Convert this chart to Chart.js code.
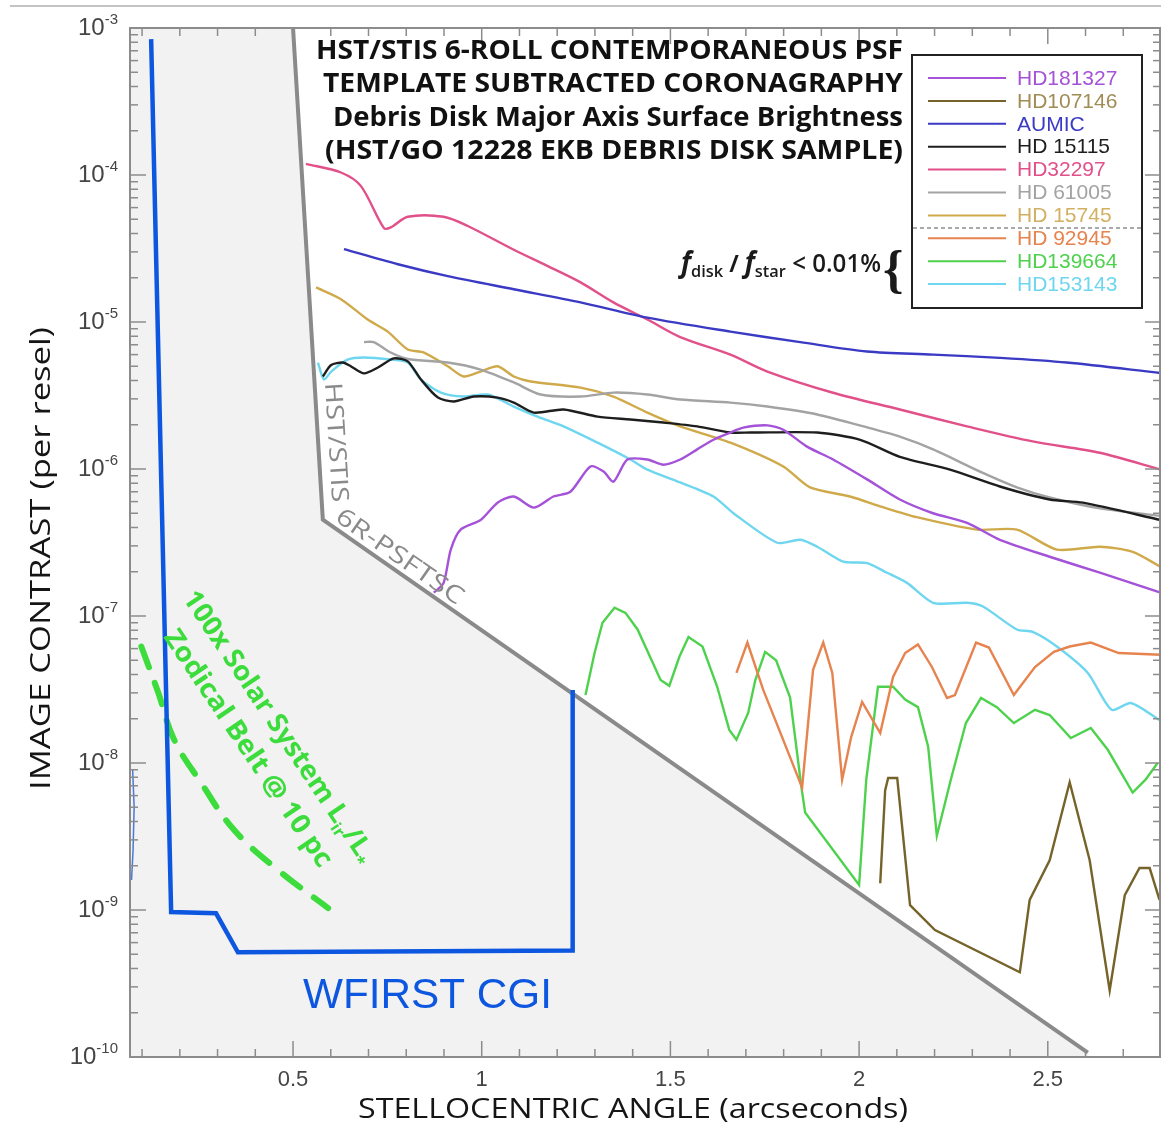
<!DOCTYPE html>
<html>
<head>
<meta charset="utf-8">
<script src="https://cdn.jsdelivr.net/npm/chart.js@4.4.1/dist/chart.umd.min.js"></script>
<style>
  html, body { margin: 0; padding: 0; background: #fff; }
  canvas { display: block; }
</style>
</head>
<body>
<canvas id="contrastChart" width="1161" height="1123"></canvas>
<script>
// Данные (угол в arcsec, контраст на resel)
const seriesNames = ['HD181327', 'HD107146', 'AUMIC', 'HD 15115', 'HD32297',
  'HD 61005', 'HD 15745', 'HD 92945', 'HD139664', 'HD153143'];
const seriesColors = ['#a452d8', '#75632a', '#3a3ac4', '#1e1e1e', '#e2508a',
  '#a3a3a3', '#cfa94a', '#e6834e', '#4ed24e', '#6fd6ef'];
const legendColors = ['#a452d8', '#a08d55', '#3a3ac4', '#1e1e1e', '#e2508a',
  '#a3a3a3', '#d2b062', '#e6834e', '#4ed24e', '#6fd6ef'];
// сглаживание: гладкие профили и «рваные» шумовые
const seriesTension = [0.25, 0, 0.3, 0.25, 0.3, 0.25, 0.25, 0, 0, 0.25];

const hd181327X = [0.873, 0.899, 0.918, 0.944, 0.997, 1.042, 1.085, 1.138, 1.190, 1.235, 1.288, 1.323, 1.349, 1.386, 1.439, 1.481, 1.526, 1.571, 1.614, 1.659, 1.693, 1.757, 1.799, 1.862, 1.931, 2.021, 2.108, 2.196, 2.286, 2.373, 2.505, 2.638, 2.799];
const hd181327Y = [1.44e-7, 1.68e-7, 2.83e-7, 3.87e-7, 4.5e-7, 5.9e-7, 6.5e-7, 5.46e-7, 6.5e-7, 7.0e-7, 1.04e-6, 9.6e-7, 8.2e-7, 1.16e-6, 1.16e-6, 1.07e-6, 1.16e-6, 1.36e-6, 1.58e-6, 1.77e-6, 1.91e-6, 1.98e-6, 1.85e-6, 1.42e-6, 1.16e-6, 8.5e-7, 6.2e-7, 5.0e-7, 4.3e-7, 3.3e-7, 2.53e-7, 1.97e-7, 1.44e-7];

const hd107146X = [2.056, 2.069, 2.077, 2.101, 2.135, 2.201, 2.426, 2.452, 2.505, 2.558, 2.611, 2.664, 2.704, 2.743, 2.770, 2.796];
const hd107146Y = [1.52e-9, 6.5e-9, 7.9e-9, 7.9e-9, 1.08e-9, 7.3e-10, 3.77e-10, 1.17e-9, 2.18e-9, 7.4e-9, 2.18e-9, 2.84e-10, 1.26e-9, 1.93e-9, 1.93e-9, 1.17e-9];

const aumicX = [0.635, 0.778, 0.910, 1.085, 1.262, 1.439, 1.659, 1.844, 2.021, 2.196, 2.373, 2.550, 2.799];
const aumicY = [3.13e-5, 2.47e-5, 2.05e-5, 1.67e-5, 1.36e-5, 1.07e-5, 8.6e-6, 7.3e-6, 6.3e-6, 6.0e-6, 5.7e-6, 5.3e-6, 4.5e-6];

const hd15115X = [0.579, 0.601, 0.632, 0.653, 0.688, 0.725, 0.767, 0.804, 0.839, 0.884, 0.926, 0.979, 1.042, 1.085, 1.138, 1.217, 1.307, 1.394, 1.481, 1.571, 1.659, 1.712, 1.889, 2.003, 2.108, 2.241, 2.373, 2.505, 2.593, 2.799];
const hd15115Y = [4.26e-6, 5.1e-6, 5.3e-6, 5.0e-6, 4.47e-6, 4.9e-6, 5.65e-6, 5.4e-6, 4.06e-6, 3.06e-6, 2.88e-6, 3.11e-6, 3.06e-6, 2.83e-6, 2.42e-6, 2.54e-6, 2.27e-6, 2.17e-6, 2.07e-6, 1.95e-6, 1.77e-6, 1.77e-6, 1.77e-6, 1.58e-6, 1.21e-6, 9.9e-7, 7.6e-7, 6.2e-7, 5.9e-7, 4.5e-7];

const hd32297X = [0.534, 0.627, 0.680, 0.741, 0.759, 0.804, 0.899, 0.963, 1.085, 1.175, 1.262, 1.349, 1.439, 1.526, 1.659, 1.757, 1.931, 2.108, 2.286, 2.460, 2.638, 2.799];
const hd32297Y = [1.19e-4, 1.04e-4, 8.4e-5, 4.35e-5, 4.4e-5, 5.2e-5, 5.2e-5, 4.5e-5, 3.1e-5, 2.4e-5, 1.86e-5, 1.36e-5, 1.04e-5, 7.9e-6, 6.0e-6, 4.6e-6, 3.3e-6, 2.54e-6, 1.95e-6, 1.54e-6, 1.29e-6, 9.9e-7];

const hd61005X = [0.688, 0.714, 0.759, 0.804, 0.910, 0.997, 1.085, 1.156, 1.262, 1.349, 1.439, 1.526, 1.659, 1.757, 1.889, 2.021, 2.108, 2.196, 2.328, 2.418, 2.505, 2.638, 2.799];
const hd61005Y = [7.3e-6, 7.3e-6, 6.2e-6, 5.6e-6, 5.3e-6, 4.75e-6, 3.88e-6, 3.21e-6, 3.11e-6, 3.31e-6, 3.21e-6, 2.97e-6, 2.83e-6, 2.66e-6, 2.35e-6, 1.92e-6, 1.66e-6, 1.36e-6, 9.4e-7, 7.5e-7, 6.4e-7, 5.4e-7, 4.8e-7];

const hd15745X = [0.561, 0.627, 0.698, 0.751, 0.804, 0.847, 0.910, 0.952, 0.997, 1.042, 1.085, 1.130, 1.262, 1.349, 1.439, 1.526, 1.659, 1.799, 1.870, 1.976, 2.063, 2.153, 2.312, 2.418, 2.524, 2.638, 2.725, 2.799];
const hd15745Y = [1.72e-5, 1.43e-5, 1.04e-5, 8.6e-6, 6.5e-6, 6.2e-6, 5.0e-6, 4.26e-6, 4.6e-6, 5.0e-6, 4.26e-6, 3.94e-6, 3.58e-6, 3.11e-6, 2.42e-6, 1.95e-6, 1.51e-6, 1.04e-6, 7.5e-7, 6.5e-7, 5.5e-7, 4.7e-7, 3.87e-7, 3.87e-7, 2.83e-7, 2.96e-7, 2.73e-7, 2.16e-7];

const hd92945X = [1.675, 1.704, 1.746, 1.796, 1.849, 1.878, 1.905, 1.929, 1.955, 1.979, 2.008, 2.056, 2.090, 2.122, 2.156, 2.193, 2.233, 2.254, 2.310, 2.344, 2.410, 2.466, 2.516, 2.558, 2.614, 2.688, 2.799];
const hd92945Y = [4.1e-8, 6.6e-8, 3.14e-8, 1.5e-8, 6.8e-9, 4.3e-8, 6.6e-8, 4.1e-8, 7.7e-9, 1.5e-8, 2.6e-8, 1.6e-8, 3.85e-8, 5.6e-8, 6.4e-8, 4.5e-8, 2.77e-8, 2.9e-8, 6.6e-8, 6.1e-8, 2.9e-8, 4.5e-8, 5.7e-8, 6.2e-8, 6.6e-8, 5.6e-8, 5.45e-8];

const hd139664X = [1.275, 1.299, 1.320, 1.352, 1.381, 1.413, 1.474, 1.497, 1.524, 1.548, 1.585, 1.624, 1.656, 1.675, 1.706, 1.725, 1.751, 1.780, 1.817, 1.847, 1.857, 2.000, 2.019, 2.050, 2.090, 2.122, 2.156, 2.183, 2.206, 2.243, 2.283, 2.323, 2.365, 2.410, 2.466, 2.505, 2.561, 2.614, 2.659, 2.725, 2.759, 2.791];
const hd139664Y = [2.9e-8, 5.6e-8, 9.0e-8, 1.14e-7, 1.05e-7, 8.1e-8, 3.67e-8, 3.35e-8, 5.3e-8, 7.2e-8, 6.2e-8, 3.3e-8, 1.68e-8, 1.44e-8, 2.19e-8, 3.67e-8, 5.7e-8, 5.0e-8, 2.8e-8, 6.9e-9, 4.6e-9, 1.48e-9, 7.7e-9, 3.3e-8, 3.3e-8, 2.7e-8, 2.4e-8, 1.29e-8, 3.2e-9, 7.7e-9, 1.87e-8, 2.77e-8, 2.4e-8, 1.87e-8, 2.3e-8, 2.12e-8, 1.48e-8, 1.73e-8, 1.23e-8, 6.3e-9, 7.7e-9, 1.0e-8];

const hd153143X = [0.566, 0.582, 0.601, 0.646, 0.688, 0.759, 0.804, 0.839, 0.892, 0.952, 1.016, 1.085, 1.148, 1.217, 1.307, 1.394, 1.439, 1.526, 1.614, 1.667, 1.783, 1.844, 1.889, 1.958, 2.021, 2.074, 2.127, 2.196, 2.286, 2.328, 2.418, 2.460, 2.524, 2.606, 2.669, 2.720, 2.796];
const hd153143Y = [5.3e-6, 4.06e-6, 4.6e-6, 5.56e-6, 5.74e-6, 5.56e-6, 5.3e-6, 4.06e-6, 3.31e-6, 3.11e-6, 3.21e-6, 2.66e-6, 2.27e-6, 1.95e-6, 1.51e-6, 1.16e-6, 9.9e-7, 8.1e-7, 6.5e-7, 5.0e-7, 3.15e-7, 3.3e-7, 2.96e-7, 2.34e-7, 2.29e-7, 1.97e-7, 1.68e-7, 1.23e-7, 1.23e-7, 1.16e-7, 8.1e-8, 7.8e-8, 6.2e-8, 4.1e-8, 2.3e-8, 2.56e-8, 1.96e-8];

// граница чувствительности HST/STIS 6R-PSFTSC (затенённая область под ней)
const stisLimitX = [0.068, 0.5, 0.579, 2.606];
const stisLimitY = [1e-3, 1e-3, 4.52e-7, 1.07e-10];

// контур WFIRST CGI
const wfirstX = [0.124, 0.177, 0.296, 0.354, 1.241, 1.241];
const wfirstY = [8.4e-4, 9.7e-10, 9.5e-10, 5.16e-10, 5.3e-10, 3.14e-8];

// 100x зодиакальный пояс Солнечной системы @ 10 pc
const zodiX = [0.098, 0.143, 0.185, 0.257, 0.344, 0.460, 0.593];
const zodiY = [6.2e-8, 3.0e-8, 1.44e-8, 7.3e-9, 3.5e-9, 1.87e-9, 1.03e-9];

// короткий синий штрих у левого края
const edgeX = [0.075, 0.079, 0.076, 0.072];
const edgeY = [9e-9, 5e-9, 2.5e-9, 1.6e-9];

// оси
const xMin = 0.068, xMax = 2.8, yMin = 1e-10, yMax = 1e-3;
const xTickValues = [0.5, 1, 1.5, 2, 2.5];
const xTickLabels = ['0.5', '1', '1.5', '2', '2.5'];
const yTickExps = [-3, -4, -5, -6, -7, -8, -9, -10];

const seriesX = [hd181327X, hd107146X, aumicX, hd15115X, hd32297X, hd61005X, hd15745X, hd92945X, hd139664X, hd153143X];
const seriesY = [hd181327Y, hd107146Y, aumicY, hd15115Y, hd32297Y, hd61005Y, hd15745Y, hd92945Y, hd139664Y, hd153143Y];

const pts = (xs, ys) => xs.map((x, i) => ({ x: x, y: ys[i] }));

const datasets = seriesNames.map((name, i) => ({
    label: name,
    data: pts(seriesX[i], seriesY[i]),
    borderColor: seriesColors[i],
    borderWidth: 2.4,
    tension: seriesTension[i],
    order: 1
}));

datasets.push({
    label: 'wfirst',
    data: pts(wfirstX, wfirstY),
    borderColor: '#0d57e0',
    borderWidth: 4.5,
    borderJoinStyle: 'miter',
    order: 0
});
datasets.push({
    label: 'zodi',
    data: pts(zodiX, zodiY),
    borderColor: '#3ddc3d',
    borderWidth: 6,
    borderDash: [22, 17],
    borderCapStyle: 'round',
    tension: 0.4,
    order: 0
});
datasets.push({
    label: 'edge',
    data: pts(edgeX, edgeY),
    borderColor: '#4a78d8',
    borderWidth: 1.5,
    order: 0
});
datasets.push({
    label: 'stis',
    data: pts(stisLimitX, stisLimitY),
    borderColor: '#8a8a8a',
    borderWidth: 4,
    backgroundColor: '#f2f2f2',
    fill: 'start',
    order: 10,
    segment: {
        // верхний край заливки не рисуем
        borderColor: c => c.p0DataIndex === 0 ? 'rgba(0,0,0,0)' : '#8a8a8a'
    }
});

// текст, растянутый/сжатый до заданной ширины
function drawRuns(ctx, runs, x, y, angle, width) {
    let total = 0;
    runs.forEach(r => { ctx.font = r.font; total += ctx.measureText(r.t).width; });
    ctx.save();
    ctx.translate(x, y);
    ctx.rotate(angle);
    ctx.scale(width ? width / total : 1, 1);
    ctx.textAlign = 'left';
    ctx.textBaseline = 'alphabetic';
    let cx = 0;
    runs.forEach(r => {
        ctx.font = r.font;
        ctx.fillText(r.t, cx, r.dy || 0);
        cx += ctx.measureText(r.t).width;
    });
    ctx.restore();
}

const decor = {
    id: 'decor',
    beforeDraw(chart) {
        const ctx = chart.ctx;
        ctx.save();
        ctx.fillStyle = '#fff';
        ctx.fillRect(0, 0, chart.width, chart.height);
        ctx.strokeStyle = '#c4c4c4';
        ctx.lineWidth = 2;
        ctx.beginPath();
        ctx.moveTo(10, 6);
        ctx.lineTo(chart.width, 6);
        ctx.stroke();
        ctx.restore();
    },
    afterDatasetsDraw(chart) {
        const { ctx, chartArea: a, scales: { x, y } } = chart;
        ctx.save();

        // рамка и засечки внутрь
        ctx.strokeStyle = '#8c8c8c';
        ctx.lineWidth = 2;
        ctx.strokeRect(a.left, a.top, a.right - a.left - 1, a.bottom - a.top);
        ctx.lineWidth = 1.5;
        const seg = (x0, y0, x1, y1) => { ctx.beginPath(); ctx.moveTo(x0, y0); ctx.lineTo(x1, y1); ctx.stroke(); };
        for (let d = -10; d < -3; d++) {
            for (let k = 1; k <= 9; k++) {
                const py = y.getPixelForValue(k * Math.pow(10, d));
                const len = k === 1 ? 16 : 8;
                seg(a.left, py, a.left + len, py);
                seg(a.right, py, a.right - len, py);
            }
        }
        for (let i = 1; i * 0.1 <= xMax + 1e-9; i++) {
            const px = x.getPixelForValue(i * 0.1);
            const len = i % 5 === 0 ? 16 : 8;
            seg(px, a.bottom, px, a.bottom - len);
            seg(px, a.top, px, a.top + len);
        }

        // подписи делений
        ctx.fillStyle = '#454545';
        ctx.textBaseline = 'middle';
        yTickExps.forEach(e => {
            const py = y.getPixelForValue(Math.pow(10, e));
            ctx.font = '15px "Liberation Sans"';
            const ew = ctx.measureText(String(e)).width;
            ctx.textAlign = 'left';
            ctx.fillText(String(e), 118 - ew, py - 8);
            ctx.font = '24px "Liberation Sans"';
            ctx.textAlign = 'right';
            ctx.fillText('10', 118 - ew, py);
        });
        ctx.font = '22px "Liberation Sans"';
        ctx.textAlign = 'center';
        xTickValues.forEach((v, i) => ctx.fillText(xTickLabels[i], x.getPixelForValue(v), 1080));

        // названия осей
        ctx.fillStyle = '#151515';
        drawRuns(ctx, [{ t: 'STELLOCENTRIC ANGLE (arcseconds)', font: '27px "Open Sans"' }], 358, 1118, 0, 550);
        drawRuns(ctx, [{ t: 'IMAGE CONTRAST (per resel)', font: '27px "Open Sans"' }], 50, 790, -Math.PI / 2, 463);

        // заголовок
        ctx.fillStyle = '#111';
        const titleLines = ['HST/STIS 6-ROLL CONTEMPORANEOUS PSF', 'TEMPLATE SUBTRACTED CORONAGRAPHY',
            'Debris Disk Major Axis Surface Brightness', '(HST/GO 12228 EKB DEBRIS DISK SAMPLE)'];
        const titleLeft = [316, 323, 333, 325];
        titleLines.forEach((t, i) => {
            drawRuns(ctx, [{ t: t, font: 'bold 26px "Open Sans"' }], titleLeft[i], 59 + i * 33.3, 0, 903 - titleLeft[i]);
        });

        // легенда
        ctx.fillStyle = '#fff';
        ctx.fillRect(912, 55, 230, 253);
        ctx.strokeStyle = '#222';
        ctx.lineWidth = 2;
        ctx.strokeRect(912, 55, 230, 253);
        ctx.font = '21px "Liberation Sans"';
        ctx.textAlign = 'left';
        ctx.textBaseline = 'middle';
        seriesNames.forEach((n, i) => {
            const ry = 78 + i * 22.9;
            ctx.strokeStyle = seriesColors[i];
            ctx.lineWidth = 2;
            seg(928, ry, 1006, ry);
            ctx.fillStyle = legendColors[i];
            ctx.fillText(n, 1017, ry + 1);
        });
        ctx.strokeStyle = '#555';
        ctx.lineWidth = 1;
        ctx.setLineDash([4, 3]);
        seg(913, 228, 1141, 228);
        ctx.setLineDash([]);

        // f_disk / f_star < 0.01% {
        ctx.fillStyle = '#1a1a1a';
        drawRuns(ctx, [
            { t: 'f', font: 'italic bold 28px "Open Sans"' },
            { t: 'disk', font: '600 17px "Open Sans"', dy: 5 },
            { t: ' / ', font: 'bold 24px "Open Sans"' },
            { t: 'f', font: 'italic bold 28px "Open Sans"' },
            { t: 'star', font: '600 17px "Open Sans"', dy: 5 },
            { t: ' < 0.01%', font: '600 25px "Open Sans"' }
        ], 681, 272, 0, 200);
        ctx.font = 'bold 52px "Liberation Serif"';
        ctx.textAlign = 'left';
        ctx.textBaseline = 'alphabetic';
        ctx.fillText('{', 883, 287);

        // подписи вдоль границы HST/STIS
        ctx.fillStyle = '#8a8a8a';
        drawRuns(ctx, [{ t: 'HST/STIS', font: '24px "Open Sans"' }], 325, 383, 86.5 * Math.PI / 180, 120);
        drawRuns(ctx, [{ t: '6R-PSFTSC', font: '24px "Open Sans"' }], 334, 520, 34.8 * Math.PI / 180, 150);

        // зодиакальный пояс
        ctx.fillStyle = '#3ddc3d';
        const ang = 56 * Math.PI / 180;
        drawRuns(ctx, [
            { t: '100x Solar System L', font: 'bold 27px "Open Sans"' },
            { t: 'ir', font: 'bold 16px "Open Sans"', dy: 6 },
            { t: '/L', font: 'bold 27px "Open Sans"' },
            { t: '*', font: 'bold 16px "Open Sans"', dy: 6 }
        ], 182, 598, ang, 322);
        drawRuns(ctx, [{ t: 'Zodical Belt @ 10 pc', font: 'bold 27px "Open Sans"' }], 163, 637, ang, 280);

        // WFIRST CGI
        ctx.fillStyle = '#0d57e0';
        drawRuns(ctx, [{ t: 'WFIRST CGI', font: '42px "Liberation Sans"' }], 303, 1008, 0, 249);

        ctx.restore();
    }
};

const ctx = document.getElementById('contrastChart').getContext('2d');
const chart = new Chart(ctx, {
    type: 'line',
    data: { datasets: datasets },
    options: {
        responsive: false,
        animation: false,
        layout: { padding: { left: 130, top: 28, right: 0, bottom: 66 } },
        plugins: { legend: { display: false }, tooltip: { enabled: false } },
        elements: { point: { radius: 0 }, line: { tension: 0 } },
        scales: {
            x: { type: 'linear', min: xMin, max: xMax, display: false },
            y: { type: 'logarithmic', min: yMin, max: yMax, display: false }
        }
    },
    plugins: [decor]
});
</script>
</body>
</html>
